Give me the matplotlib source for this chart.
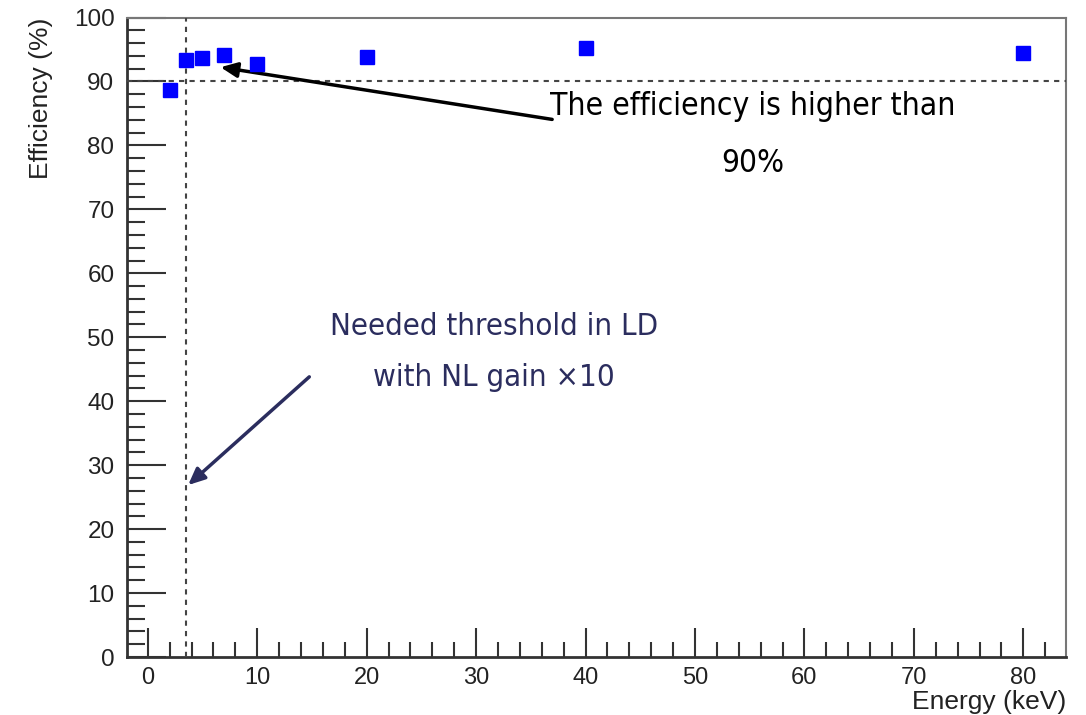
import matplotlib
matplotlib.use("Agg")
import matplotlib.pyplot as plt
from matplotlib.ticker import MultipleLocator

energy = [2, 3.5, 5, 7, 10, 20, 40, 80]
efficiency = [88.6, 93.3, 93.6, 94.1, 92.8, 93.8, 95.2, 94.4]
threshold_x = 3.5
efficiency_line = 90

fig = plt.figure(figsize=(10.86, 7.15), dpi=100)
ax = fig.add_axes([0.1169, 0.0811, 0.8647, 0.8944])
ax.set_xlim(-1.9, 83.9)
ax.set_ylim(0, 100)

ax.plot(energy, efficiency, 's', color='#0000ff', markersize=10, zorder=5)
ax.axhline(efficiency_line, color='#444444', ls=(0, (2.5, 2.5)), lw=1.5, zorder=3)
ax.axvline(threshold_x, color='#444444', ls=(0, (2.5, 2.5)), lw=1.5, zorder=3)

ax.xaxis.set_major_locator(MultipleLocator(10))
ax.xaxis.set_minor_locator(MultipleLocator(2))
ax.yaxis.set_major_locator(MultipleLocator(10))
ax.yaxis.set_minor_locator(MultipleLocator(2))
ax.tick_params(axis='x', which='major', direction='in', length=21, width=1.5, color='#333333',
               labelsize=17, pad=7, top=False)
ax.tick_params(axis='x', which='minor', direction='in', length=11, width=1.5, color='#333333', top=False)
ax.tick_params(axis='y', which='major', direction='in', length=28, width=1.5, color='#333333',
               labelsize=17.5, pad=9, right=False)
ax.tick_params(axis='y', which='minor', direction='in', length=13, width=1.5, color='#333333', right=False)
for lab in ax.get_xticklabels() + ax.get_yticklabels():
    lab.set_fontfamily(['Liberation Sans', 'DejaVu Sans'])
    lab.set_color('#222222')

for s in ['left', 'bottom']:
    ax.spines[s].set_color('#333333')
    ax.spines[s].set_linewidth(2)
for s in ['top', 'right']:
    ax.spines[s].set_color('#777777')
    ax.spines[s].set_linewidth(1.5)

ax.set_xlabel('Energy (keV)', fontsize=19, family=['Liberation Sans', 'DejaVu Sans'], color='#222222')
ax.xaxis.set_label_coords(1.0, -0.052)
ax.xaxis.label.set_ha('right')
ax.set_ylabel('Efficiency (%)', fontsize=19, family=['Liberation Sans', 'DejaVu Sans'], color='#222222')
ax.yaxis.set_label_coords(-0.092, 1.0)
ax.yaxis.label.set_va('center')
ax.yaxis.label.set_ha('right')

cond = ['DejaVu Sans']
ax.annotate('', xy=(6.4, 92.3), xytext=(37.2, 84.0),
            arrowprops=dict(arrowstyle='-|>,head_length=1.0,head_width=0.45', color='black', lw=2.5))
ax.text(55.3, 81.6, 'The efficiency is higher than\n90%', ha='center', va='center',
        fontsize=22.8, family=cond, stretch='condensed', color='black', linespacing=2.1)

navy = '#2b2d5e'
ax.annotate('', xy=(3.5, 26.6), xytext=(14.95, 44.1),
            arrowprops=dict(arrowstyle='-|>,head_length=1.0,head_width=0.45', color=navy, lw=2.5))
ax.text(31.65, 47.7, 'Needed threshold in LD\nwith NL gain \u00d710', ha='center', va='center',
        fontsize=22.4, family=cond, stretch='condensed', color=navy, linespacing=1.94)

fig.savefig('out.png', dpi=100)
